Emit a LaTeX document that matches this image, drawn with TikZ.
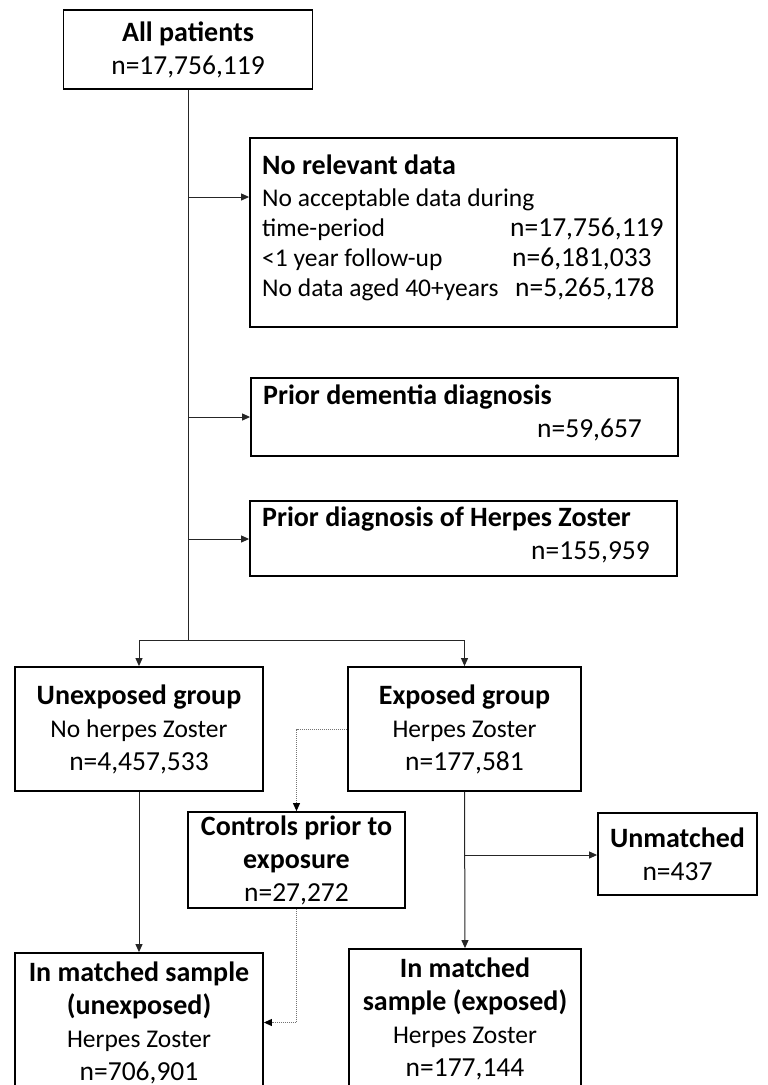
\documentclass[tikz,border=0pt]{standalone}
\usepackage{fontspec}
\setmainfont{Carlito}
\usetikzlibrary{arrows.meta}
\newcommand\myfs{\fontsize{25.5}{33}\selectfont}
\newcommand\mybf{\fontsize{28}{33}\selectfont\bfseries}
\newcommand\mynum{\fontsize{27.5}{33}\selectfont}
\begin{document}
\begin{tikzpicture}[x=1pt,y=-1pt,
  box/.style={draw=black, line width=1.8pt, inner sep=0pt, align=center, font=\myfs},
  lt/.style={inner sep=0pt, font=\myfs, anchor=mid west},
  line/.style={line width=1pt, draw=black!85},
  conn/.style={line width=1pt, draw=black!85, -{Triangle[length=8pt,width=7pt]}},
  dotconn/.style={line width=1pt, draw=black!55, dash pattern=on 1pt off 1pt, -{Triangle[length=8pt,width=7pt,color=black]}}
]
\useasboundingbox (0,0) rectangle (768,1085);
\clip (0,0) rectangle (768,1085);
\fill[white] (0,0) rectangle (768,1085);

% boxes
\node[box, minimum width=249, minimum height=79] (all) at (188,49.5) {{\mybf All patients}\\{\mynum n=17,756,119}};
\node[box, minimum width=427, minimum height=189] (norel) at (463.5,232.5) {};
\node[box, minimum width=427, minimum height=78] (dem) at (464.5,417) {};
\node[box, minimum width=427, minimum height=75] (herp) at (463.5,538.5) {};
\node[box, minimum width=248, minimum height=124] (unexp) at (139,729) {{\mybf Unexposed group}\\No herpes Zoster\\{\mynum n=4,457,533}};
\node[box, minimum width=233, minimum height=124] (exp) at (464.5,729) {{\mybf Exposed group}\\Herpes Zoster\\{\mynum n=177,581}};
\node[box, minimum width=217, minimum height=96] (ctrl) at (296.5,860) {{\mybf Controls prior to}\\{\mybf exposure}\\{\mynum n=27,272}};
\node[box, minimum width=159, minimum height=82] (unm) at (677.5,854) {{\mybf Unmatched}\\{\mynum n=437}};
\node[box, minimum width=248, minimum height=139] (mu) at (139,1022.5) {{\mybf In matched sample}\\{\mybf (unexposed)}\\Herpes Zoster\\{\mynum n=706,901}};
\node[box, minimum width=232, minimum height=139] (me) at (465,1018.5) {{\mybf In matched}\\{\mybf sample (exposed)}\\Herpes Zoster\\{\mynum n=177,144}};

% texts in left-aligned boxes
\node[lt, font=\mybf] (nr1) at (262,172) {No relevant data};
\node[lt] (nr2) at (262,204) {No acceptable data during};
\node[lt] (nr3) at (262,234) {time-period};
\node[lt, font=\mynum] (nr3n) at (510,234) {n=17,756,119};
\node[lt] (nr4) at (262,264) {<1 year follow-up};
\node[lt, font=\mynum] (nr4n) at (512,264) {n=6,181,033};
\node[lt] (nr5) at (262,294) {No data aged 40+years};
\node[lt, font=\mynum] (nr5n) at (515,294) {n=5,265,178};
\node[lt, font=\mybf] (dm1) at (263,402) {Prior dementia diagnosis};
\node[lt, font=\mynum] (dm2) at (537,435) {n=59,657};
\node[lt, font=\mybf] (hz1) at (262,524) {Prior diagnosis of Herpes Zoster};
\node[lt, font=\mynum] (hz2) at (531,557) {n=155,959};

% connectors
\coordinate (j1) at (188,197);
\coordinate (j2) at (188,417);
\coordinate (j3) at (188,539);
\coordinate (j4) at (188,640);
\coordinate (j5) at (465,855);
\draw[line] (all.south) -- (j4);
\draw[conn] (j1) -- (j1 -| norel.west);
\draw[conn] (j2) -- (j2 -| dem.west);
\draw[conn] (j3) -- (j3 -| herp.west);
\draw[line] (unexp.north |- j4) -- (exp.north |- j4);
\draw[conn] (unexp.north |- j4) -- (unexp.north);
\draw[conn] (exp.north |- j4) -- (exp.north);
\draw[conn] (unexp.south) -- (mu.north);
\draw[conn] (exp.south) -- (me.north);
\draw[conn] (j5) -- (j5 -| unm.west);
\draw[dotconn] (exp.west) -- (exp.west -| ctrl.north) -- (ctrl.north);
\draw[dotconn] (ctrl.south) -- (ctrl.south |- mu.east) -- (mu.east);
\end{tikzpicture}
\end{document}
